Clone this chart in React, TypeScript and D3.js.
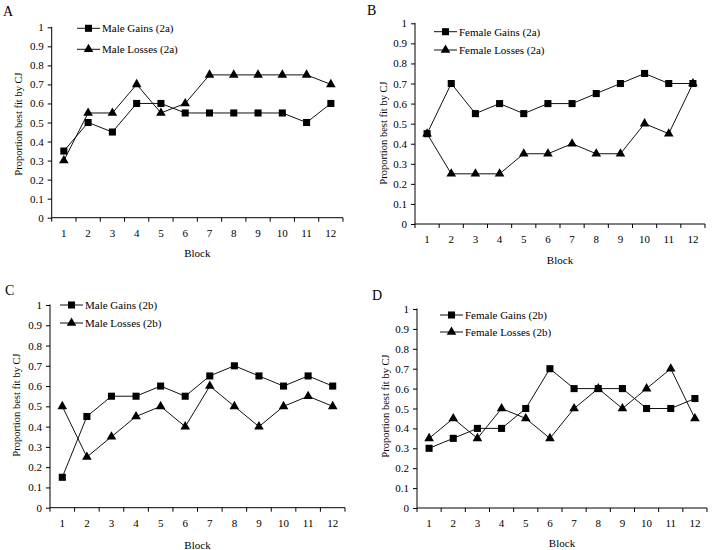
import { useEffect, useRef } from 'react';
import * as d3 from 'd3';

// Block numbers on the x axis
const blocks = [1, 2, 3, 4, 5, 6, 7, 8, 9, 10, 11, 12];
const yTicks = [0, 0.1, 0.2, 0.3, 0.4, 0.5, 0.6, 0.7, 0.8, 0.9, 1];

// Panel A
const maleGains2a = [0.35, 0.5, 0.45, 0.6, 0.6, 0.55, 0.55, 0.55, 0.55, 0.55, 0.5, 0.6];
const maleLosses2a = [0.3, 0.55, 0.55, 0.7, 0.55, 0.6, 0.75, 0.75, 0.75, 0.75, 0.75, 0.7];
// Panel B
const femaleGains2a = [0.45, 0.7, 0.55, 0.6, 0.55, 0.6, 0.6, 0.65, 0.7, 0.75, 0.7, 0.7];
const femaleLosses2a = [0.45, 0.25, 0.25, 0.25, 0.35, 0.35, 0.4, 0.35, 0.35, 0.5, 0.45, 0.7];
// Panel C
const maleGains2b = [0.15, 0.45, 0.55, 0.55, 0.6, 0.55, 0.65, 0.7, 0.65, 0.6, 0.65, 0.6];
const maleLosses2b = [0.5, 0.25, 0.35, 0.45, 0.5, 0.4, 0.6, 0.5, 0.4, 0.5, 0.55, 0.5];
// Panel D
const femaleGains2b = [0.3, 0.35, 0.4, 0.4, 0.5, 0.7, 0.6, 0.6, 0.6, 0.5, 0.5, 0.55];
const femaleLosses2b = [0.35, 0.45, 0.35, 0.5, 0.45, 0.35, 0.5, 0.6, 0.5, 0.6, 0.7, 0.45];

const FONT = '"Liberation Serif", "Times New Roman", serif';

const panels = [
    {
        letter: 'A', lx: 3, ly: 16,
        x0: 51.7, x1: 343, yTop: 27.3, yBot: 217.7,
        legendX: 77, legendY: [28.3, 49.3],
        titleX: 18, titleY: 124, blockY: 253,
        series: [
            { name: 'Male Gains (2a)', values: maleGains2a, marker: 'square' },
            { name: 'Male Losses (2a)', values: maleLosses2a, marker: 'triangle' },
        ],
    },
    {
        letter: 'B', lx: 367, ly: 15,
        x0: 415, x1: 705, yTop: 23.3, yBot: 224,
        legendX: 434, legendY: [31.7, 50],
        titleX: 383, titleY: 133, blockY: 260,
        series: [
            { name: 'Female Gains (2a)', values: femaleGains2a, marker: 'square' },
            { name: 'Female Losses (2a)', values: femaleLosses2a, marker: 'triangle' },
        ],
    },
    {
        letter: 'C', lx: 5, ly: 295,
        x0: 50, x1: 345, yTop: 305, yBot: 507.7,
        legendX: 60, legendY: [305, 323],
        titleX: 16, titleY: 405, blockY: 545,
        series: [
            { name: 'Male Gains (2b)', values: maleGains2b, marker: 'square' },
            { name: 'Male Losses (2b)', values: maleLosses2b, marker: 'triangle' },
        ],
    },
    {
        letter: 'D', lx: 372, ly: 300,
        x0: 417, x1: 707, yTop: 309, yBot: 508,
        legendX: 440, legendY: [315, 332],
        titleX: 385, titleY: 406, blockY: 543,
        series: [
            { name: 'Female Gains (2b)', values: femaleGains2b, marker: 'square' },
            { name: 'Female Losses (2b)', values: femaleLosses2b, marker: 'triangle' },
        ],
    },
];

const squareSym = d3.symbol().type(d3.symbolSquare).size(50);
const triangleSym = d3.symbol().type(d3.symbolTriangle).size(40);

export default function App() {
    const svgRef = useRef<SVGSVGElement>(null);

    useEffect(() => {
        const svg = d3.select(svgRef.current);
        svg.selectAll('*').remove();

        svg.append('rect').attr('width', 719).attr('height', 550).attr('fill', '#fff');

        panels.forEach((p) => {
            const g = svg.append('g');

            const x = d3.scaleBand<number>().domain(blocks).range([p.x0, p.x1]).padding(0);
            const y = d3.scaleLinear().domain([0, 1]).range([p.yBot, p.yTop]);
            const cx = (b: number) => (x(b) as number) + x.bandwidth() / 2;

            // Panel letter
            g.append('text')
                .attr('x', p.lx)
                .attr('y', p.ly)
                .style('font-family', FONT)
                .style('font-size', '14px')
                .text(p.letter);

            // Y axis
            const yAxis = g.append('g')
                .attr('transform', `translate(${p.x0},0)`)
                .call(
                    d3.axisLeft(y)
                        .tickValues(yTicks)
                        .tickSize(4)
                        .tickPadding(4)
                        .tickFormat((d) => d3.format('~g')(d as number))
                );
            yAxis.select('.domain').attr('d', `M0,${p.yBot}V${p.yTop - 0.5}`);
            yAxis.selectAll('text')
                .style('font-family', FONT)
                .style('font-size', '11px')
                .attr('fill', '#000');

            // X axis: ticks sit on band boundaries
            const xg = g.append('g').attr('transform', `translate(0,${p.yBot})`);
            xg.append('line')
                .attr('x1', p.x0)
                .attr('x2', p.x1)
                .attr('stroke', '#000');
            const bounds = blocks.map((b) => x(b) as number).concat([p.x1]);
            xg.selectAll('.xt')
                .data(bounds)
                .enter()
                .append('line')
                .attr('x1', (d) => d)
                .attr('x2', (d) => d)
                .attr('y1', 0)
                .attr('y2', 4)
                .attr('stroke', '#000');
            xg.selectAll('.xl')
                .data(blocks)
                .enter()
                .append('text')
                .attr('x', (d) => cx(d))
                .attr('y', 15)
                .attr('text-anchor', 'middle')
                .attr('dominant-baseline', 'central')
                .style('font-family', FONT)
                .style('font-size', '11px')
                .text((d) => d);

            // Axis titles
            g.append('text')
                .attr('x', (p.x0 + p.x1) / 2)
                .attr('y', p.blockY)
                .attr('text-anchor', 'middle')
                .attr('dominant-baseline', 'central')
                .style('font-family', FONT)
                .style('font-size', '11px')
                .text('Block');
            g.append('text')
                .attr('transform', `translate(${p.titleX},${p.titleY}) rotate(-90)`)
                .attr('text-anchor', 'middle')
                .attr('dominant-baseline', 'central')
                .style('font-family', FONT)
                .style('font-size', '10.5px')
                .text('Proportion best fit by CJ');

            // Lines and markers
            const line = d3.line<number>()
                .x((_, i) => cx(blocks[i]))
                .y((d) => y(d));

            p.series.forEach((s, si) => {
                g.append('path')
                    .datum(s.values)
                    .attr('d', line)
                    .attr('fill', 'none')
                    .attr('stroke', '#111')
                    .attr('stroke-width', 1);

                const sym = s.marker === 'square' ? squareSym : triangleSym;
                g.selectAll(`.m${si}`)
                    .data(s.values)
                    .enter()
                    .append('path')
                    .attr('d', sym as any)
                    .attr('transform', (d, i) => `translate(${cx(blocks[i])},${y(d)})`)
                    .attr('fill', '#000');

                // Legend entry
                const ly = p.legendY[si];
                g.append('line')
                    .attr('x1', p.legendX)
                    .attr('x2', p.legendX + 23)
                    .attr('y1', ly)
                    .attr('y2', ly)
                    .attr('stroke', '#111');
                g.append('path')
                    .attr('d', sym as any)
                    .attr('transform', `translate(${p.legendX + 11.5},${ly})`)
                    .attr('fill', '#000');
                g.append('text')
                    .attr('x', p.legendX + 25)
                    .attr('y', ly)
                    .attr('dominant-baseline', 'central')
                    .style('font-family', FONT)
                    .style('font-size', '11px')
                    .text(s.name);
            });
        });
    }, []);

    return (
        <svg
            ref={svgRef}
            width={719}
            height={550}
            style={{ position: 'absolute', left: 0, top: 0 }}
        ></svg>
    );
}
